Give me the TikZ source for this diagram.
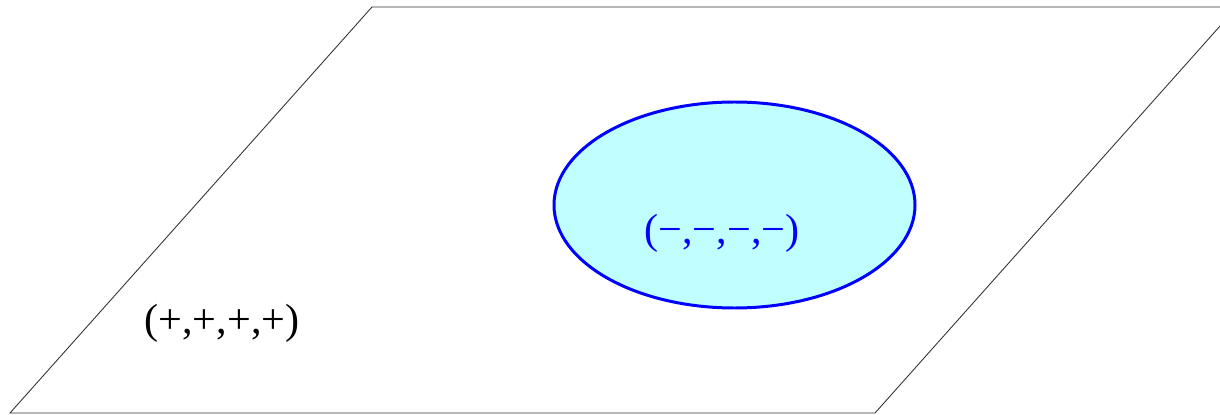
\documentclass[tikz,border=0pt]{standalone}
\usepackage{fontspec}
\setmainfont{Liberation Serif}
\usetikzlibrary{shapes.geometric, positioning, calc}

\definecolor{regioncyan}{RGB}{192,255,255}

\begin{document}
\begin{tikzpicture}[
    x=0.2mm, y=-0.2mm,
    plane/.style={draw=black!80, line width=0.5pt},
    region/.style={ellipse, draw=blue, fill=regioncyan, line width=1.7pt, minimum width=361*0.2mm, minimum height=206*0.2mm, inner sep=0pt},
    sign/.style={font=\fontsize{24}{28}\selectfont, inner sep=0pt}
]
    \useasboundingbox (0,0) rectangle (1220,415);
    \clip (0,0) rectangle (1220,415);

    \coordinate (tl) at (372,7);
    \coordinate (tr) at (1237,7);
    \coordinate (br) at (875,413);
    \coordinate (bl) at (10,413);
    \draw[plane] (tl) -- (tr) -- (br) -- (bl) -- cycle;

    \node[region] (neg) at (734.5,205) {};
    \node[sign, text=blue] (negsign) at (722,233) {(−,−,−,−)};
    \node[sign] (possign) at (222,323) {(+,+,+,+)};
\end{tikzpicture}
\end{document}
